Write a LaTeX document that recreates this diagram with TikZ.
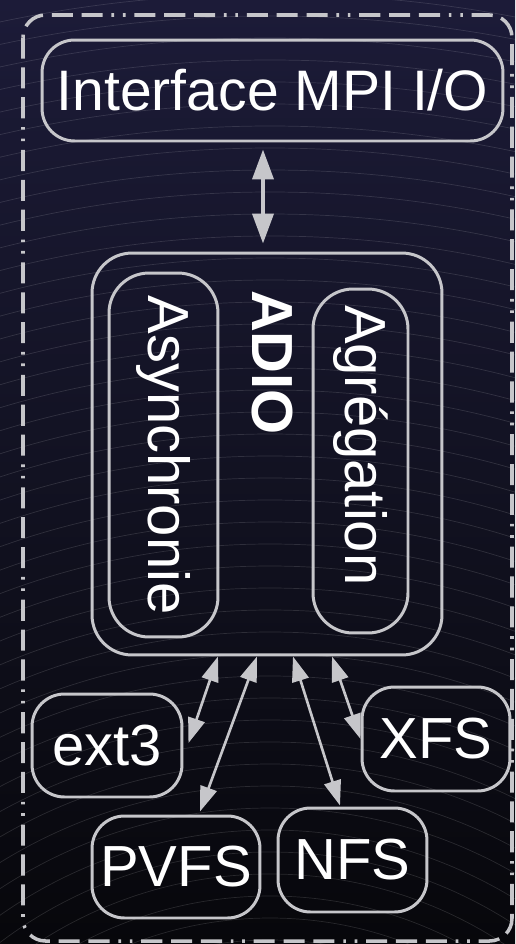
\documentclass[tikz,border=0pt]{standalone}
\usepackage{fontspec}
\setmainfont{Liberation Sans}
\usetikzlibrary{arrows.meta,positioning}
\definecolor{FondHaut}{HTML}{1C1B38}
\definecolor{FondMilieu}{HTML}{121222}
\definecolor{FondBas}{HTML}{07070B}
\definecolor{TraitGris}{HTML}{C6C6CA}
\newcommand{\grand}{\fontsize{33}{40}\selectfont}
\tikzset{
  boite/.style={draw=TraitGris,line width=1.7pt,rounded corners=0.65cm,text=white,inner sep=0pt},
  fleche/.style={TraitGris,line width=1.5pt,{Triangle[width=0.34cm,length=0.5cm]}-{Triangle[width=0.34cm,length=0.5cm]}},
  flecheH/.style={TraitGris,line width=2.2pt,{Triangle[width=0.42cm,length=0.6cm]}-{Triangle[width=0.42cm,length=0.6cm]}}
}
\begin{document}
\begin{tikzpicture}[x=0.02cm,y=-0.02cm,font=\grand]
  \useasboundingbox (0,0) rectangle (515,944);
  % --- Fond : degrade sombre et arcs fins ---
  \fill[top color=FondHaut,bottom color=FondBas,middle color=FondMilieu] (0,0) rectangle (515,944);
  \begin{scope}
    \clip (0,0) rectangle (515,944);
    \foreach \r in {360,382,...,1400}
      \draw[white,opacity=0.13,line width=0.4pt] (270,1300) circle[radius=\r];
  \end{scope}
  % cadre en tirets-points autour du tout
  \draw[TraitGris,line width=2pt,rounded corners=0.45cm,
        dash pattern=on 12pt off 5pt on 12pt off 5pt on 12pt off 5pt on 1.5pt off 5pt on 1.5pt off 5pt]
        (23,15) rectangle (512,941);
  % --- Interface et bloc ADIO ---
  \node[boite,minimum width=9.22cm,minimum height=2.02cm,font=\fontsize{32.5}{40}\selectfont] (iface) at (272.5,90.5) {Interface MPI I/O};
  \node[boite,minimum width=7cm,minimum height=8.04cm,rounded corners=0.8cm] (adio) at (267,454) {};
  \node[text=white,font=\grand\bfseries,rotate=-90,anchor=base,inner sep=0pt] (adiotitre) at (252,362.5) {ADIO};
  \node[boite,rotate=-90,minimum width=7.28cm,minimum height=2.18cm,rounded corners=0.8cm] (async) at (163.5,455) {Asynchronie};
  \node[boite,rotate=-90,minimum height=1.9cm,text width=6.24cm,inner xsep=0.32cm,align=left,rounded corners=0.8cm] (agreg) at (360.5,461) {Agrégation};
  % --- Systemes de fichiers ---
  \node[boite,minimum width=3cm,minimum height=2.06cm] (ext3) at (107,745.5) {ext3};
  \node[boite,minimum width=2.96cm,minimum height=2.08cm] (xfs) at (436,739) {XFS};
  \node[boite,minimum width=3.36cm,minimum height=2.04cm] (pvfs) at (176,867) {PVFS};
  \node[boite,minimum width=2.98cm,minimum height=2.08cm] (nfs) at (352.5,860) {NFS};
  % --- Fleches ---
  \draw[flecheH] ([xshift=-0.19cm,yshift=-0.14cm]iface.south) -- ([xshift=-0.08cm,yshift=0.16cm]adio.north);
  \draw[fleche] ([xshift=-0.98cm]adio.south) -- ([xshift=0.1cm,yshift=0.05cm]ext3.east);
  \draw[fleche] ([xshift=-0.2cm]adio.south) -- ([xshift=0.48cm,yshift=0.06cm]pvfs.north);
  \draw[fleche] ([xshift=0.52cm]adio.south) -- ([xshift=-0.25cm,yshift=0.02cm]nfs.north);
  \draw[fleche] ([xshift=1.3cm]adio.south) -- (xfs.west);
\end{tikzpicture}
\end{document}
